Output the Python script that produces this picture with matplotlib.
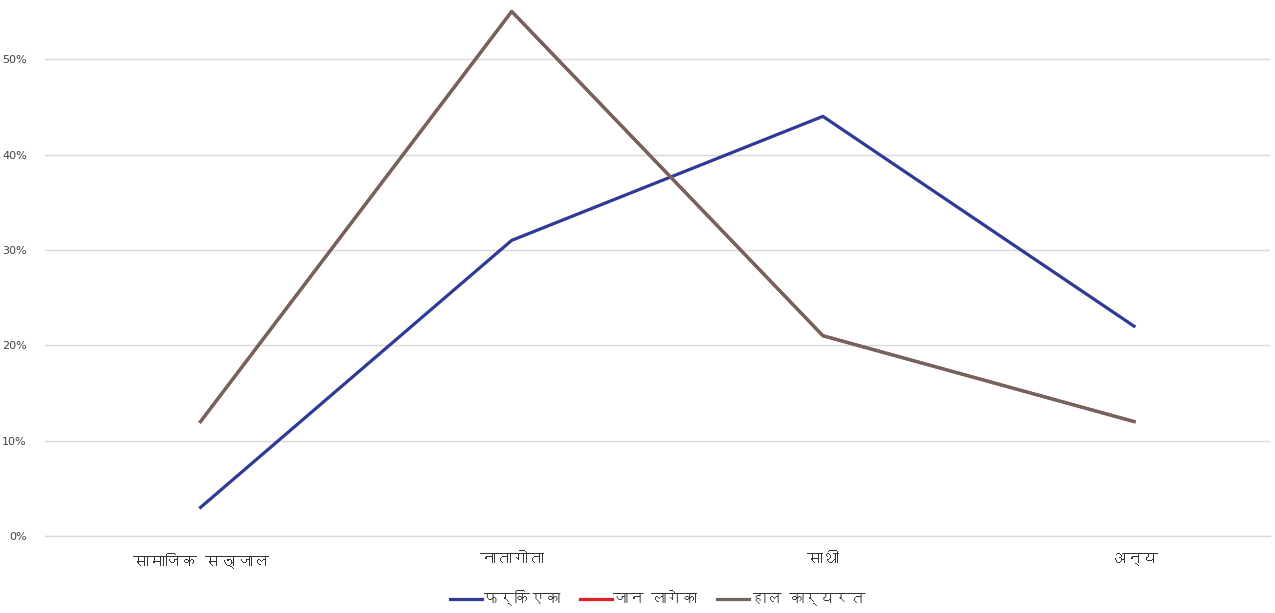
import matplotlib
matplotlib.use("Agg")
import matplotlib.pyplot as plt
from matplotlib import font_manager
from matplotlib.ft2font import FT2Font
from matplotlib.ticker import PercentFormatter

categories = ["सामाजिक सञ्जाल", "नातागोता", "साथी", "अन्य"]
series_names = ["फर्किएका", "जान लागेका", "हाल कार्यरत"]
returned = [0.03, 0.31, 0.44, 0.22]
leaving = [0.12, 0.55, 0.21, 0.12]
working = [0.12, 0.55, 0.21, 0.12]
y_ticks = [0.0, 0.1, 0.2, 0.3, 0.4, 0.5]


def find_devanagari_family():
    # look for any installed font that actually has Devanagari glyphs
    for f in font_manager.fontManager.ttflist:
        try:
            if ord("न") in FT2Font(f.fname).get_charmap():
                return f.name
        except Exception:
            continue
    return None


deva = find_devanagari_family()
families = ([deva] if deva else []) + ["DejaVu Sans"]
plt.rcParams["font.family"] = families

fig = plt.figure(figsize=(12.75, 6.13), dpi=100)
ax = fig.add_axes([45 / 1275, 77 / 613, 1225 / 1275, 536 / 613])

x = list(range(len(categories)))
ax.plot(x, returned, color="#2E3A94", lw=2.3, label=series_names[0], zorder=3)
ax.plot(x, leaving, color="#E41E26", lw=2.3, label=series_names[1], zorder=3)
ax.plot(x, working, color="#6F665F", lw=2.3, label=series_names[2], zorder=4)

ax.set_xlim(-0.5, 3.437)
ax.set_ylim(0, 0.562)
ax.set_yticks(y_ticks)
ax.yaxis.set_major_formatter(PercentFormatter(1.0, decimals=0))
ax.set_xticks(x)
ax.set_xticklabels(categories, fontsize=11.5, color="#333333")
ax.tick_params(axis="y", length=0, pad=13, labelsize=8, labelcolor="#404040")
ax.tick_params(axis="x", length=0, pad=12)
for lbl in ax.get_yticklabels():
    lbl.set_family("DejaVu Sans")

ax.grid(axis="y", color="#D9D9D9", lw=1)
ax.set_axisbelow(True)
for s in ax.spines.values():
    s.set_visible(False)
ax.spines["bottom"].set_visible(True)
ax.spines["bottom"].set_color("#D9D9D9")
ax.spines["bottom"].set_linewidth(1)

leg = ax.legend(loc="center", bbox_to_anchor=(0.5, -0.116), ncol=3, frameon=False,
                fontsize=11, handlelength=2.1, handletextpad=0.1, columnspacing=1.3)
for t in leg.get_texts():
    t.set_color("#333333")

fig.savefig("out.png", dpi=100)
